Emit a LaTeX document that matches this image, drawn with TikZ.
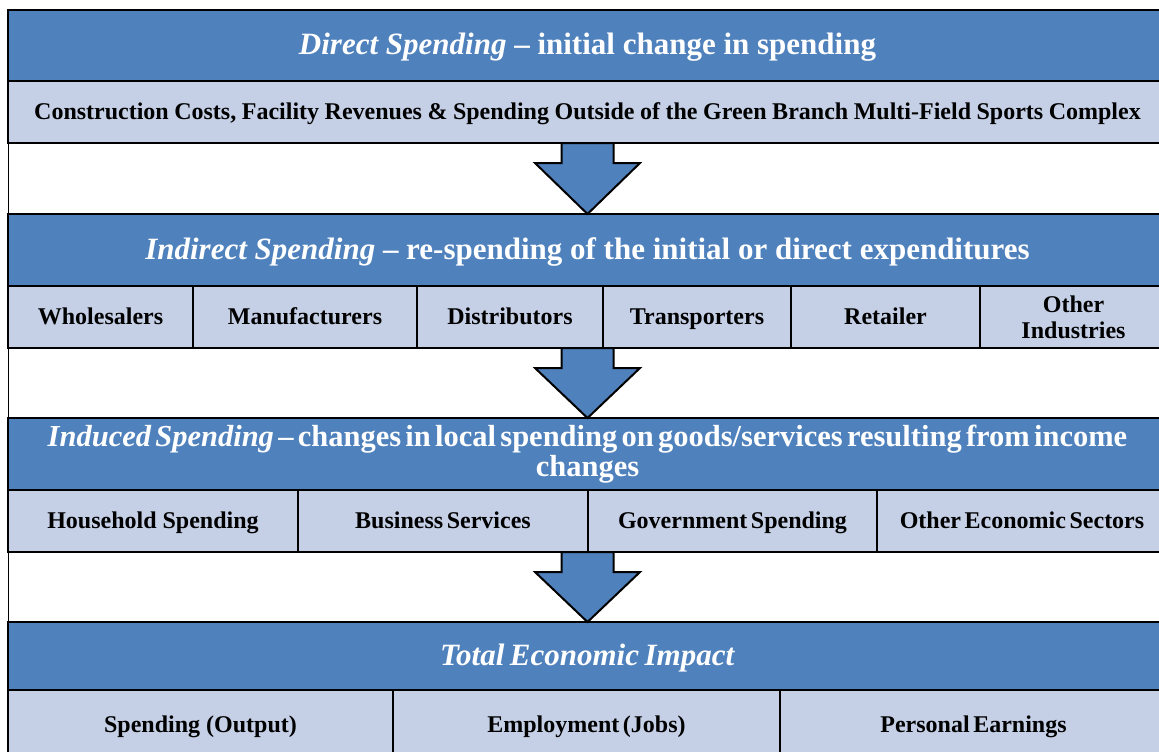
\documentclass[tikz,border=0pt]{standalone}
\usepackage{fontspec}
\setmainfont{Liberation Serif}
\usetikzlibrary{calc}
\definecolor{hdrblue}{RGB}{79,129,189}
\definecolor{cellblue}{RGB}{197,208,230}
\begin{document}
\begin{tikzpicture}[x=1pt,y=-1pt,
  box/.style={draw=black, line width=2.6pt, inner sep=0pt, outer sep=0pt,
    anchor=north west, align=center},
  hdr/.style={box, fill=hdrblue, text=white, text height=23pt, text depth=5pt,
    font=\fontsize{31}{30}\selectfont\bfseries},
  cell/.style={box, fill=cellblue, text=black, text height=18pt, text depth=4pt,
    font=\fontsize{24}{26}\selectfont\bfseries},
  twolines/.style={text height={}, text depth={}},
  downarrow/.style={draw=black, line width=2pt, fill=hdrblue, line join=miter}]
\useasboundingbox (0,0) rectangle (1159,752);
\clip (0,0) rectangle (1159,752);

% --- Direct spending
\node[hdr, minimum width=1159pt, minimum height=71pt] (h1) at (8,10)
  {\textit{Direct Spending} -- initial change in spending};
\node[cell, minimum width=1159pt, minimum height=62pt] (c1) at (8,81)
  {\spaceskip=0.23em Construction Costs, Facility Revenues \& Spending Outside of the Green Branch Multi-Field Sports Complex};

% --- Indirect spending
\node[hdr, minimum width=1159pt, minimum height=72pt] (h2) at (8,214)
  {\textit{Indirect Spending} -- re-spending of the initial or direct expenditures};
\node[cell, minimum width=185pt, minimum height=62pt] (c21) at (8,286) {Wholesalers};
\node[cell, minimum width=224pt, minimum height=62pt] (c22) at (193,286) {Manufacturers};
\node[cell, minimum width=186pt, minimum height=62pt] (c23) at (417,286) {Distributors};
\node[cell, minimum width=188pt, minimum height=62pt] (c24) at (603,286) {Transporters};
\node[cell, minimum width=189pt, minimum height=62pt] (c25) at (791,286) {Retailer};
\node[cell, twolines, minimum width=187pt, minimum height=62pt] (c26) at (980,286) {Other\\Industries};

% --- Induced spending
\node[hdr, twolines, font=\fontsize{30.5}{30}\selectfont\bfseries,
      minimum width=1159pt, minimum height=72pt] (h3) at (8,418)
  {\spaceskip=0.14em \textit{Induced Spending} -- changes in local spending on goods/services resulting from income\\changes};
\node[cell, minimum width=290pt, minimum height=62pt] (c31) at (8,490) {Household Spending};
\node[cell, minimum width=290pt, minimum height=62pt] (c32) at (298,490) {\spaceskip=0.15em Business Services};
\node[cell, minimum width=289pt, minimum height=62pt] (c33) at (588,490) {\spaceskip=0.15em Government Spending};
\node[cell, minimum width=290pt, minimum height=62pt] (c34) at (877,490) {\spaceskip=0.15em Other Economic Sectors};

% --- Total impact
\node[hdr, minimum width=1159pt, minimum height=68pt] (h4) at (8,622)
  {\spaceskip=0.18em \textit{Total Economic Impact}};
\node[cell, minimum width=385pt, minimum height=70pt] (c41) at (8,690) {Spending (Output)};
\node[cell, minimum width=387pt, minimum height=70pt] (c42) at (393,690) {\spaceskip=0.15em Employment (Jobs)};
\node[cell, minimum width=387pt, minimum height=70pt] (c43) at (780,690) {\spaceskip=0.15em Personal Earnings};

% thin rule down the left side, through the gaps
\draw[line width=0.8pt] (c1.south west) -- (h2.north west);
\draw[line width=0.8pt] (c21.south west) -- (h3.north west);
\draw[line width=0.8pt] (c31.south west) -- (h4.north west);

% block arrows between the stages
\foreach \from/\to in {c1/h2, c23/h3, c33/h4}{
  \path let \p1=(\from.south), \p2=(\to.north) in
    coordinate (top) at (587.5,\y1) coordinate (tip) at (587.5,\y2);
  \draw[downarrow] ($(top)+(-26,0)$) -- ($(top)+(-26,20)$) -- ($(top)+(-52.5,20)$)
    -- (tip) -- ($(top)+(52.5,20)$) -- ($(top)+(26,20)$) -- ($(top)+(26,0)$) -- cycle;
}
\end{tikzpicture}
\end{document}
